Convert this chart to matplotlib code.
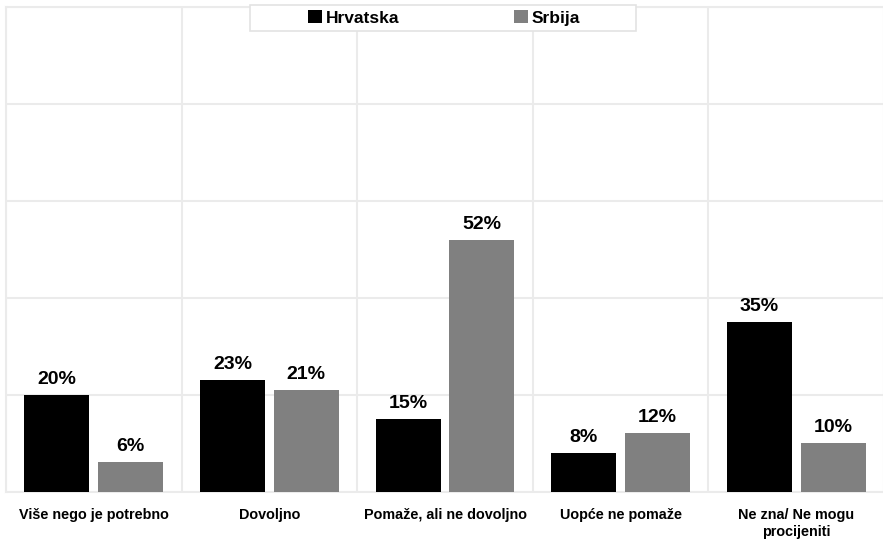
import matplotlib.pyplot as plt
import numpy as np
from matplotlib.patches import Rectangle

plt.rcParams['font.family'] = ['Liberation Sans', 'DejaVu Sans']

categories = ['Više nego je potrebno', 'Dovoljno', 'Pomaže, ali ne dovoljno',
              'Uopće ne pomaže', 'Ne zna/ Ne mogu\nprocijeniti']
hrvatska = [20, 23, 15, 8, 35]
srbija = [6, 21, 52, 12, 10]
series_names = ['Hrvatska', 'Srbija']

W, H = 883, 544
fig = plt.figure(figsize=(W / 100, H / 100), dpi=100)
ax = fig.add_axes([6 / W, 1 - 491.5 / H, 878 / W, 484.5 / H])

grid_col = '#EBEBEB'
x = np.arange(len(categories))
bw = 0.37
off = 0.21
b1 = ax.bar(x - off, hrvatska, bw, color='black', label=series_names[0], zorder=3)
b2 = ax.bar(x + off, srbija, bw, color='#808080', label=series_names[1], zorder=3)

for bars, vals in ((b1, hrvatska), (b2, srbija)):
    for r, v in zip(bars, vals):
        ax.annotate(f'{v}%', (r.get_x() + r.get_width() / 2, v),
                    xytext=(0, 5), textcoords='offset points',
                    ha='center', va='bottom', fontsize=14, fontweight='bold')

ax.set_xlim(-0.5, len(categories) - 0.5)
ax.set_ylim(0, 100)
ax.set_yticks(np.arange(0, 101, 20))
ax.set_yticklabels([])
ax.set_xticks(x)
ax.set_xticklabels(categories, fontsize=10.4, fontweight='bold', linespacing=1.25)
ax.set_xticks(np.arange(-0.5, len(categories), 1), minor=True)
ax.tick_params(axis='both', which='both', length=0)
ax.tick_params(axis='x', pad=12)
ax.grid(True, axis='y', which='major', color=grid_col, lw=1.5, zorder=0)
ax.grid(True, axis='x', which='minor', color=grid_col, lw=1.5, zorder=0)
for s in ax.spines.values():
    s.set_color(grid_col)
    s.set_linewidth(1.5)
ax.set_axisbelow(True)

# legend box drawn separately so its padding can be wide
fig.patches.append(Rectangle((250 / W, 1 - 31 / H), 386 / W, 26 / H,
                             transform=fig.transFigure, facecolor='white',
                             edgecolor='#E3E3E3', lw=1.2, zorder=5))
leg = fig.legend(handles=[b1, b2], loc='center', bbox_to_anchor=(444 / W, 1 - 18 / H),
                 ncol=2, frameon=False, handlelength=0.8,
                 handleheight=0.8, handletextpad=0.2, columnspacing=6.6,
                 prop={'weight': 'bold', 'size': 12.5})
leg.set_zorder(6)

fig.savefig('out.png', dpi=100)
